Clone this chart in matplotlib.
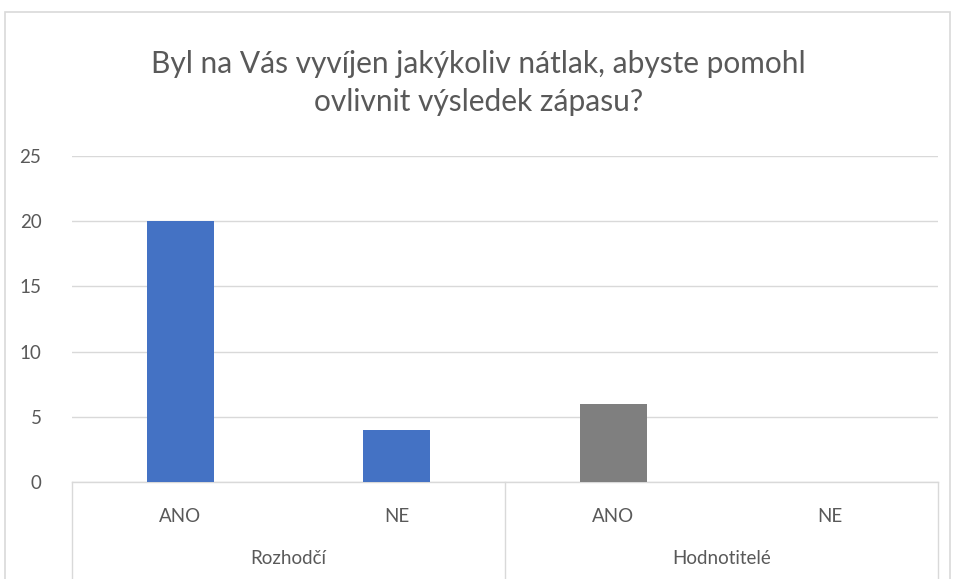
import matplotlib
matplotlib.use("Agg")
import matplotlib.pyplot as plt
from matplotlib.patches import Rectangle
from matplotlib.lines import Line2D

title = "Byl na Vás vyvíjen jakýkoliv nátlak, abyste pomohl\novlivnit výsledek zápasu?"
groups = ["Rozhodčí", "Hodnotitelé"]
answers = ["ANO", "NE", "ANO", "NE"]
values = [20, 4, 6, 0]
group_colors = ["#4472C4", "#7F7F7F"]
yticks = [0, 5, 10, 15, 20, 25]

plt.rcParams['font.family'] = ['Lato', 'DejaVu Sans']
W, H = 957, 579
fig = plt.figure(figsize=(W / 100, H / 100), dpi=100)
fig.patch.set_facecolor("white")

# outer chart border
fig.add_artist(Rectangle((5 / W, -0.05), 945 / W, (H - 12) / H + 0.05,
                         transform=fig.transFigure, fill=False,
                         edgecolor="#D9D9D9", linewidth=1.2))

x0, x1 = 72, 938
y_top, y_bot = 156, 482
ax = fig.add_axes([x0 / W, 1 - y_bot / H, (x1 - x0) / W, (y_bot - y_top) / H])

n = len(answers)
xs = list(range(n))
colors = [group_colors[i // 2] for i in range(n)]
ax.bar(xs, values, width=0.31, color=colors, zorder=3)
ax.set_xlim(-0.5, n - 0.5)
ax.set_ylim(0, 25)
ax.set_yticks(yticks)
ax.set_yticklabels([str(t) for t in yticks], fontsize=13.5, color="#595959")
ax.tick_params(axis="y", length=0, pad=22)
ax.set_xticks([])
ax.grid(axis="y", color="#D9D9D9", linewidth=1, zorder=0)
for s in ["top", "right", "left"]:
    ax.spines[s].set_visible(False)
ax.spines["bottom"].set_color("#D9D9D9")
ax.spines["bottom"].set_linewidth(1)

# multi-level category axis
trans = ax.get_xaxis_transform()
axh = (y_bot - y_top)
for xv in [-0.5, 1.5, 3.5]:
    ax.add_line(Line2D([xv, xv], [0, -(H - y_bot) / axh - 0.01], transform=trans,
                       color="#D9D9D9", linewidth=1, clip_on=False))
for i, a in enumerate(answers):
    ax.text(i, -(516 - y_bot) / axh, a, transform=trans, ha="center", va="center",
            fontsize=13.5, color="#595959")
for g, name in enumerate(groups):
    ax.text(2 * g + 0.5, -(558 - y_bot) / axh, name, transform=trans, ha="center",
            va="center", fontsize=13.5, color="#595959")

fig.text(0.5, 1 - 83 / H, title, ha="center", va="center", fontsize=21.5,
         color="#595959", linespacing=1.42)

fig.savefig("out.png", dpi=100, facecolor="white")
